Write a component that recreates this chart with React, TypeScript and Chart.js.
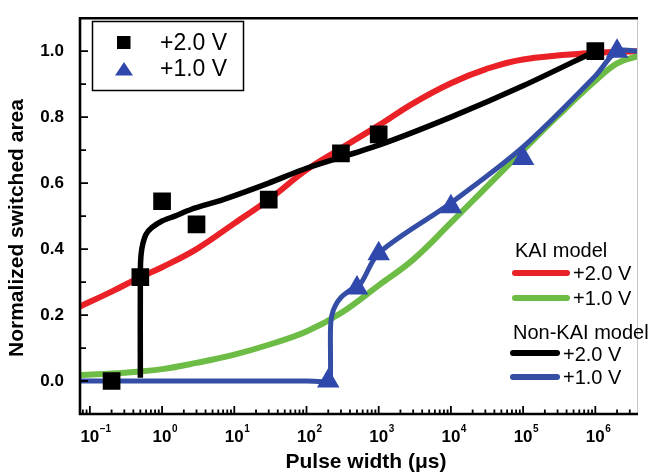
import React, { useEffect, useRef } from 'react';
import { Chart, registerables } from 'chart.js';

Chart.register(...registerables);

// ---- data ----
const squareX = [0.2, 0.5, 1, 3, 30, 300, 1000, 1e6];
const squareY = [0, 0.315, 0.545, 0.475, 0.55, 0.69, 0.748, 1.0];

const triangleX = [200, 500, 1000, 1e4, 1e5, 2e6];
const triangleY = [0, 0.282, 0.386, 0.528, 0.675, 1.0];

const kai2X = [0.073, 0.2, 0.5, 1, 3, 10, 30, 100, 300, 1000, 3000, 1e4, 3e4, 1e5, 1e6, 3.9e6];
const kai2Y = [0.226, 0.271, 0.315, 0.345, 0.4, 0.478, 0.55, 0.64, 0.705, 0.775, 0.842, 0.903, 0.945, 0.975, 0.995, 1.0];

const kai1X = [0.073, 0.3, 1, 3, 10, 30, 100, 300, 1000, 3000, 1e4, 3e4, 1e5, 3e5, 1e6, 2e6, 3.9e6];
const kai1Y = [0.018, 0.025, 0.036, 0.055, 0.08, 0.11, 0.15, 0.206, 0.29, 0.368, 0.48, 0.585, 0.7, 0.803, 0.91, 0.963, 0.985];

const nonKai2X = [0.5, 0.5, 0.51, 0.54, 0.6, 0.72, 1.0, 1.5, 2.5, 7, 30, 100, 1000, 1e4, 1e5, 1e6];
const nonKai2Y = [0.01, 0.33, 0.38, 0.415, 0.445, 0.465, 0.485, 0.5, 0.52, 0.55, 0.6, 0.645, 0.715, 0.8, 0.895, 1.0];

const nonKai1X = [0.073, 100, 208, 215, 215, 225, 250, 300, 400, 560, 1000, 1e4, 1e5, 1e6, 2e6, 3.9e6];
const nonKai1Y = [0, 0, 0, 0.02, 0.16, 0.2, 0.228, 0.253, 0.275, 0.295, 0.388, 0.54, 0.71, 0.925, 1.0, 1.0];

const yTickValues = [0, 0.2, 0.4, 0.6, 0.8, 1.0];
const yMinorValues = [0.1, 0.3, 0.5, 0.7, 0.9];
const xExponents = [-1, 0, 1, 2, 3, 4, 5, 6];

const xTitle = 'Pulse width (\u03bcs)';
const yTitle = 'Normalized switched area';
const dataLegendLabels = ['+2.0 V', '+1.0 V'];
const kaiTitle = 'KAI model';
const nonKaiTitle = 'Non-KAI model';

const RED = 'rgb(234,33,39)';
const GREEN = 'rgb(108,188,70)';
const BLUE = 'rgb(52,78,166)';
const TRI_BLUE = 'rgb(48,72,172)';

const zip = (xs: number[], ys: number[]) => xs.map((x, i) => ({ x, y: ys[i] }));

const SUP: Record<string, string> = { '-': '\u207b', '0': '\u2070', '1': '\u00b9', '2': '\u00b2', '3': '\u00b3', '4': '\u2074', '5': '\u2075', '6': '\u2076', '7': '\u2077', '8': '\u2078', '9': '\u2079' };

const decorPlugin = {
  id: 'decor',
  afterDraw(chart: any) {
    const { ctx, chartArea } = chart;
    const xs = chart.scales.x;
    const ys = chart.scales.y;
    const L = chartArea.left, R = chartArea.right, T = chartArea.top, B = chartArea.bottom;
    ctx.save();
    // right faint border
    ctx.strokeStyle = '#c8c8c8';
    ctx.lineWidth = 1;
    ctx.beginPath(); ctx.moveTo(R - 0.5, T); ctx.lineTo(R - 0.5, B); ctx.stroke();
    // frame
    ctx.strokeStyle = '#000';
    ctx.lineWidth = 2.6;
    ctx.beginPath();
    ctx.moveTo(R, T); ctx.lineTo(L, T); ctx.lineTo(L, B); ctx.lineTo(R, B);
    ctx.stroke();
    // y ticks (inward)
    ctx.lineWidth = 1.8;
    ctx.beginPath();
    yTickValues.forEach((v) => { const p = ys.getPixelForValue(v); ctx.moveTo(L, p); ctx.lineTo(L + 8, p); });
    yMinorValues.forEach((v) => { const p = ys.getPixelForValue(v); ctx.moveTo(L, p); ctx.lineTo(L + 6, p); });
    ctx.stroke();
    // x ticks (inward)
    ctx.beginPath();
    for (let e = -2; e <= 6; e++) {
      for (let m = 1; m <= 9; m++) {
        const v = m * Math.pow(10, e);
        if (v < xs.min || v > xs.max) continue;
        const p = xs.getPixelForValue(v);
        ctx.moveTo(p, B);
        ctx.lineTo(p, B - (m === 1 ? 8 : 4.5));
      }
    }
    ctx.stroke();
    // x tick labels 10^n
    ctx.fillStyle = '#000';
    ctx.textBaseline = 'alphabetic';
    xExponents.forEach((e) => {
      const p = xs.getPixelForValue(Math.pow(10, e));
      ctx.font = 'bold 17px Arial';
      ctx.textAlign = 'center';
      ctx.fillText('10', p, 442);
      const w = ctx.measureText('10').width;
      ctx.font = 'bold 10px Arial';
      ctx.textAlign = 'left';
      ctx.fillText(String(e).replace('-', '\u2013'), p + w / 2 + 0.5, 432);
    });
    // axis titles
    ctx.font = 'bold 21px Arial';
    ctx.textAlign = 'center';
    ctx.fillText(xTitle, 366, 468);
    ctx.save();
    ctx.translate(23, 228);
    ctx.rotate(-Math.PI / 2);
    ctx.fillText(yTitle, 0, 0);
    ctx.restore();
    // data legend box
    ctx.lineWidth = 1.5;
    ctx.strokeRect(92.5, 21.5, 151, 69);
    ctx.fillStyle = '#000';
    ctx.fillRect(117, 36, 13.5, 13);
    ctx.fillStyle = TRI_BLUE;
    ctx.beginPath(); ctx.moveTo(124, 62); ctx.lineTo(133, 75.5); ctx.lineTo(115, 75.5); ctx.closePath(); ctx.fill();
    ctx.fillStyle = '#000';
    ctx.font = '23px Arial';
    ctx.textAlign = 'left';
    ctx.fillText(dataLegendLabels[0], 160, 50);
    ctx.fillText(dataLegendLabels[1], 160, 76);
    // model legend
    ctx.font = '20px Arial';
    ctx.fillText(kaiTitle, 515, 257);
    ctx.fillText(nonKaiTitle, 513, 339);
    ctx.lineCap = 'round';
    ctx.lineWidth = 6;
    const entries: [string, number, number, number, number][] = [
      [RED, 515, 567, 273, 280],
      [GREEN, 515, 567, 298, 305],
      ['#000', 513, 557, 353, 361],
      [BLUE, 513, 557, 377, 384],
    ];
    entries.forEach(([c, x1, x2, y, by], i) => {
      ctx.strokeStyle = c;
      ctx.beginPath(); ctx.moveTo(x1, y); ctx.lineTo(x2, y); ctx.stroke();
      ctx.fillStyle = '#000';
      ctx.fillText(dataLegendLabels[i % 2], x2 + 6, by);
    });
    ctx.restore();
  },
};

export default function App() {
  const ref = useRef<HTMLCanvasElement | null>(null);
  useEffect(() => {
    if (!ref.current) return;
    const chart = new Chart(ref.current, {
      type: 'scatter',
      data: {
        datasets: [
          { label: '+1.0 V (data)', data: zip(triangleX, triangleY), showLine: false, pointStyle: 'triangle', pointRadius: 13, backgroundColor: TRI_BLUE, borderWidth: 0, order: 0 },
          { label: '+2.0 V (data)', data: zip(squareX, squareY), showLine: false, pointStyle: 'rect', pointRadius: 12.5, backgroundColor: '#000', borderWidth: 0, order: 1 },
          { label: 'Non-KAI +1.0 V', data: zip(nonKai1X, nonKai1Y), showLine: true, borderColor: BLUE, borderWidth: 5, pointRadius: 0, tension: 0.3, order: 2 },
          { label: 'Non-KAI +2.0 V', data: zip(nonKai2X, nonKai2Y), showLine: true, borderColor: '#000', borderWidth: 5.5, pointRadius: 0, tension: 0.3, order: 3 },
          { label: 'KAI +1.0 V', data: zip(kai1X, kai1Y), showLine: true, borderColor: GREEN, borderWidth: 6, pointRadius: 0, tension: 0.4, order: 4 },
          { label: 'KAI +2.0 V', data: zip(kai2X, kai2Y), showLine: true, borderColor: RED, borderWidth: 6, pointRadius: 0, tension: 0.4, order: 5 },
        ] as any,
      },
      options: {
        responsive: false,
        animation: false,
        devicePixelRatio: 1,
        layout: { padding: { top: 12, right: 1, left: 0, bottom: 0 } },
        plugins: { legend: { display: false }, tooltip: { enabled: false }, title: { display: false } },
        scales: {
          x: {
            type: 'logarithmic', min: 0.073, max: 3.9e6,
            grid: { display: false }, border: { display: false },
            ticks: { display: false },
            afterFit: (s: any) => { s.height = 62; },
          },
          y: {
            type: 'linear', min: -0.1, max: 1.1,
            grid: { display: false }, border: { display: false },
            ticks: { font: { family: 'Arial', size: 17, weight: 'bold' }, color: '#000', padding: 8, callback: (v: any) => Number(v).toFixed(1) },
            afterBuildTicks: (s: any) => { s.ticks = yTickValues.map((v) => ({ value: v })); },
            afterFit: (s: any) => { s.width = 80; },
          },
        },
      } as any,
      plugins: [decorPlugin],
    });
    return () => chart.destroy();
  }, []);
  return (
    <div style={{ position: 'absolute', left: 0, top: 0, width: 651, height: 476, background: '#fff' }}>
      <canvas ref={ref} width={651} height={476} style={{ display: 'block', width: 651, height: 476 }} />
    </div>
  );
}
